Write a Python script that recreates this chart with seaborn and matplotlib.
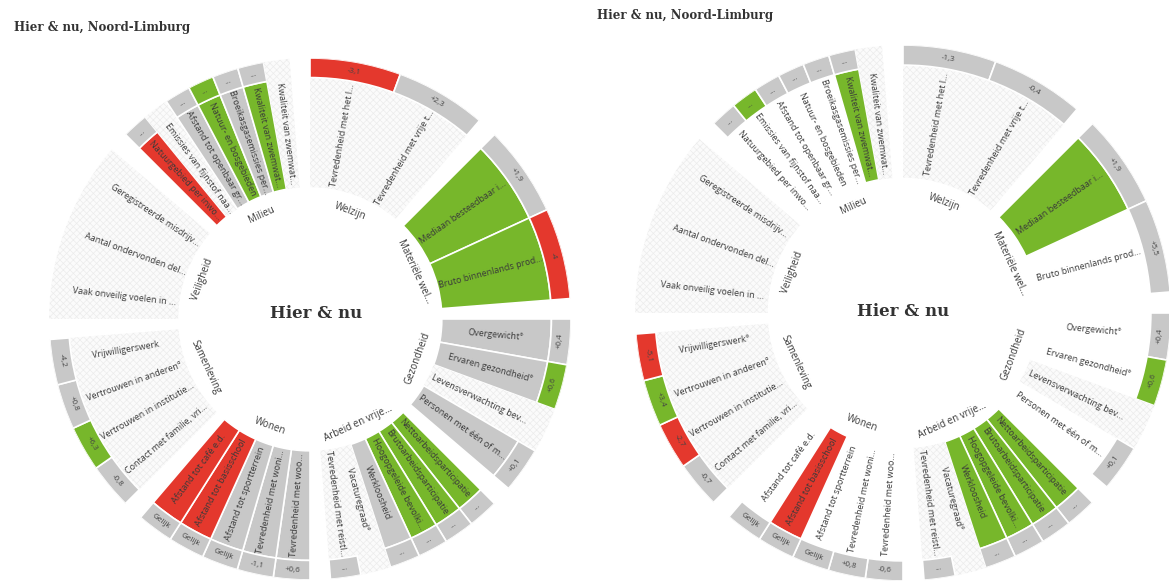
import numpy as np
import matplotlib
matplotlib.use('Agg')
import matplotlib.pyplot as plt
import seaborn as sns

sns.set_theme(style='white')
plt.rcParams['font.family'] = ['Open Sans', 'DejaVu Sans']
plt.rcParams['hatch.linewidth'] = 0.5

W, H = 1169, 583

# ── Data ───────────────────────────────────────────────────────────────────────
categories = ["Welzijn", "Materiële wel...", "Gezondheid", "Arbeid en vrije...",
              "Wonen", "Samenleving", "Veiligheid", "Milieu"]

indicators = [
    ["Tevredenheid met het l...", "Tevredenheid met vrije t..."],
    ["Mediaan besteedbaar i...", "Bruto binnenlands prod..."],
    ["Overgewicht°", "Ervaren gezondheid°", "Levensverwachting bev...", "Personen met één of m..."],
    ["Nettoarbeidsparticipatie", "Brutoarbeidsparticipatie", "Hoogopgeleide bevolki...",
     "Werkloosheid", "Vacaturegraad°", "Tevredenheid met reistl..."],
    ["Tevredenheid met woo...", "Tevredenheid met woni...", "Afstand tot sportterrein",
     "Afstand tot basisschool", "Afstand tot café e.d."],
    ["Contact met familie, vri...", "Vertrouwen in institutie...", "Vertrouwen in anderen°",
     "Vrijwilligerswerk"],
    ["Vaak onveilig voelen in ...", "Aantal ondervonden del...", "Geregistreerde misdrijv..."],
    ["Natuurgebied per inwo...", "Emissies van fijnstof naa...", "Afstand tot openbaar gr...",
     "Natuur- en bosgebieden", "Broeikasgasemissies per...", "Kwaliteit van zwemwat...",
     "Kwaliteit van zwemwat..."],
]

# status codes: g = beter, r = slechter, n = neutraal, w = geen kleur, x = geen gegevens
left_status = [["x", "x"], ["g", "g"], ["n", "n", "x", "n"], ["g", "g", "g", "n", "x", "x"],
               ["n", "n", "n", "r", "r"], ["x", "x", "x", "x"], ["x", "x", "x"],
               ["r", "x", "n", "g", "n", "g", "x"]]
left_trend = [["r", "n"], ["n", "r"], ["n", "g", "x", "n"], ["n", "n", "n", "n", "x", "n"],
              ["n", "n", "n", "n", "n"], ["n", "g", "n", "n"], ["x", "x", "x"],
              ["n", "x", "n", "g", "n", "n", "x"]]
left_trend_text = [["-3,1", "+2,3"], ["+1,9", "-4"], ["+0,4", "+0,6", "", "+0,1"],
                   ["...", "...", "...", "...", "", "..."],
                   ["+0,6", "-1,1", "Gelijk", "Gelijk", "Gelijk"],
                   ["-0,8", "+6,3", "+0,8", "-4,2"], ["", "", ""],
                   ["...", "", "...", "...", "...", "...", ""]]

right_status = [["x", "x"], ["g", "w"], ["w", "w", "x", "w"], ["g", "g", "g", "g", "x", "x"],
                ["w", "w", "w", "r", "w"], ["x", "x", "x", "x"], ["x", "x", "x"],
                ["w", "w", "w", "w", "w", "g", "x"]]
right_trend = [["n", "n"], ["n", "n"], ["n", "g", "x", "n"], ["n", "n", "n", "n", "x", "n"],
               ["n", "n", "n", "n", "n"], ["n", "r", "g", "r"], ["x", "x", "x"],
               ["n", "g", "n", "n", "n", "n", "x"]]
right_trend_text = [["-1,3", "-0,4"], ["+1,9", "+5,5"], ["+0,4", "+0,6", "", "+0,1"],
                    ["...", "...", "...", "...", "", "..."],
                    ["-0,6", "+0,8", "Gelijk", "Gelijk", "Gelijk"],
                    ["-0,7", "-2,7", "+3,4", "-5,1"], ["", "", ""],
                    ["...", "...", "...", "...", "...", "...", ""]]
right_label_fix = {"Vrijwilligerswerk": "Vrijwilligerswerk°"}

palette = {"g": "#77b72b", "r": "#e4382d", "n": "#c8c8c8"}
CAT_STEP, CAT_SPAN = 45.0, 40.5


# ── Helpers ────────────────────────────────────────────────────────────────────
def tangential_rot(th):
    th = th % 360
    return 180 - th if 90 < th < 270 else -th


def radial_rot(th):
    th = th % 360
    return 90 - th if th < 180 else 270 - th


def segment(ax, th, w, r0, r1, code):
    t, wr = np.radians(th), np.radians(w)
    if code == "x":
        ax.bar(t, r1 - r0, width=wr, bottom=r0, color="#fbfbfb", edgecolor="#ececec",
               hatch="xxxxx", linewidth=0)
    elif code in palette:
        ax.bar(t, r1 - r0, width=wr, bottom=r0, color=palette[code],
               edgecolor="white", linewidth=1.2)


def draw_wheel(cx, cy, R, status, trend, trend_text, label_fix=None):
    label_fix = label_fix or {}
    ax = fig.add_axes([(cx - R) / W, (H - cy - R) / H, 2 * R / W, 2 * R / H],
                      projection="polar")
    ax.set_theta_zero_location("N")
    ax.set_theta_direction(-1)
    ax.set_ylim(0, R)
    ax.axis("off")
    r_in, r_mid, r_out = 0.505 * R, 0.925 * R, R
    for k, cat in enumerate(categories):
        n = len(indicators[k])
        w = CAT_SPAN / n
        for i, name in enumerate(indicators[k]):
            th = k * CAT_STEP + (i + 0.5) * w
            segment(ax, th, w, r_in, r_mid, status[k][i])
            segment(ax, th, w, r_mid, r_out, trend[k][i])
            ax.text(np.radians(th), (r_in + r_mid) / 2, label_fix.get(name, name),
                    rotation=radial_rot(th), rotation_mode="anchor", ha="center",
                    va="center", fontsize=6.5, color="#3a3a3a")
            if trend_text[k][i]:
                ax.text(np.radians(th), (r_mid + r_out) / 2, trend_text[k][i],
                        rotation=tangential_rot(th), rotation_mode="anchor",
                        ha="center", va="center", fontsize=5.8, color="#444444")
        th_c = k * CAT_STEP + CAT_SPAN / 2
        ax.text(np.radians(th_c), 0.44 * R, cat, rotation=tangential_rot(th_c),
                rotation_mode="anchor", ha="center", va="center", fontsize=7,
                color="#3a3a3a")
    return ax


# ── Figure ─────────────────────────────────────────────────────────────────────
fig = plt.figure(figsize=(W / 100, H / 100), dpi=100)

draw_wheel(310, 319, 261, left_status, left_trend, left_trend_text)
draw_wheel(903, 313, 268, right_status, right_trend, right_trend_text, right_label_fix)

title_kw = dict(fontsize=8.5, fontweight="bold", color="#333333", family="DejaVu Serif",
                va="center", ha="left")
fig.text(14 / W, 1 - 28 / H, "Hier & nu, Noord-Limburg", **title_kw)
fig.text(597 / W, 1 - 15 / H, "Hier & nu, Noord-Limburg", **title_kw)

center_kw = dict(fontsize=12, fontweight="bold", color="#333333", family="DejaVu Serif",
                 va="center", ha="center")
fig.text(316 / W, 1 - 313 / H, "Hier & nu", **center_kw)
fig.text(903 / W, 1 - 311 / H, "Hier & nu", **center_kw)

fig.savefig("out.png", dpi=100)
